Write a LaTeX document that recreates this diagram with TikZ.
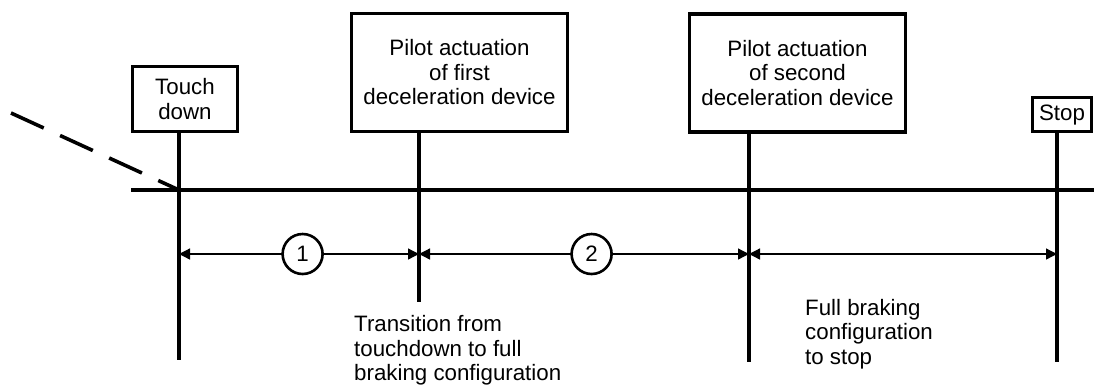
\documentclass[tikz,border=0pt]{standalone}
\usepackage{fontspec}
\setmainfont{Liberation Sans}
\usetikzlibrary{arrows.meta,positioning,calc}
\newcommand{\eventfont}{\fontsize{22.3}{24.5}\selectfont}
\tikzset{
  eventbox/.style={
    draw,line width=3.2pt,align=center,inner sep=0pt,font=\eventfont
  },
  timeline/.style={line width=3.2pt},
  approachline/.style={line width=3.6pt,dash pattern=on 36pt off 18pt},
  dimarrow/.style={
    {Triangle[length=11pt,width=11pt]}-{Triangle[length=11pt,width=11pt]},
    line width=1.3pt
  },
  numcircle/.style={
    circle,draw,line width=2.6pt,fill=white,minimum size=40pt,
    inner sep=0pt,font=\eventfont
  },
  notetext/.style={align=left,anchor=north west,inner sep=0pt,font=\eventfont}
}

\begin{document}
\begin{tikzpicture}[x=1pt,y=-1pt]
  \useasboundingbox (0,0) rectangle (1094,384);
  % events along the landing roll
  \node[eventbox,minimum width=105pt,minimum height=65pt] (touch) at (185,99) {Touch\\down};
  \node[eventbox,minimum width=216pt,minimum height=118pt] (first) at (459.5,72.5) {Pilot actuation\\of first\\deceleration device};
  \node[eventbox,minimum width=216pt,minimum height=118pt] (second) at (797.5,73) {Pilot actuation\\of second\\deceleration device};
  \node[eventbox,minimum width=59pt,minimum height=34pt] (stop) at (1062,114.7) {Stop};
  % line ends and rows
  \coordinate (tdend) at (179,360);
  \coordinate (firstend) at (419,302);
  \coordinate (secondend) at (749,362);
  \coordinate (stopend) at (1057,362);
  \coordinate (rwystart) at (131,190);
  \coordinate (rwyend) at (1094,190);
  \coordinate (apstart) at (11,113);
  \coordinate (dimrow) at (0,254);
  % runway and approach
  \draw[timeline] (rwystart) -- (rwyend);
  \draw[approachline] (apstart) -- (tdend |- rwystart);
  % event markers
  \draw[timeline] (touch.south -| tdend) -- (tdend);
  \draw[timeline] (first.south -| firstend) -- (firstend);
  \draw[timeline] (second.south -| secondend) -- (secondend);
  \draw[timeline] (stop.south -| stopend) -- (stopend);
  % phases
  \draw[dimarrow] (tdend |- dimrow) -- node[numcircle,pos=0.515] (ph1) {1} (firstend |- dimrow);
  \draw[dimarrow] (firstend |- dimrow) -- node[numcircle,pos=0.523] (ph2) {2} (secondend |- dimrow);
  \draw[dimarrow] (secondend |- dimrow) -- (stopend |- dimrow);
  \node[notetext] (trans) at (354,315.5) {Transition from\\touchdown to full\\braking configuration};
  \node[notetext] (full) at (805,299) {Full braking\\configuration\\to stop};
\end{tikzpicture}
\end{document}
